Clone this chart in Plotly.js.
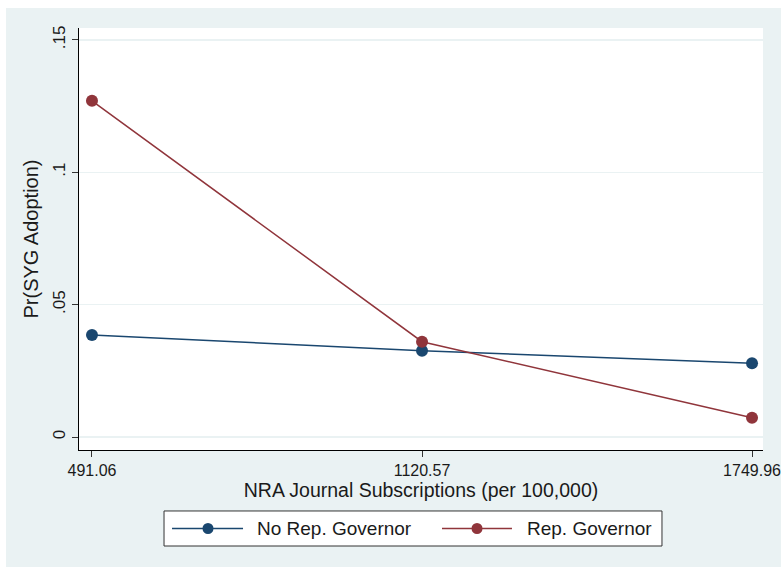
<!DOCTYPE html>
<html>
<head>
<meta charset="utf-8">
<script src="https://cdn.plot.ly/plotly-3.0.1.min.js"></script>
<style>
  html, body { margin: 0; padding: 0; background: #ffffff; overflow: hidden; }
  #chart { position: absolute; left: 6px; top: 8px; width: 775px; height: 559px; }
</style>
</head>
<body>
<div id="chart"></div>
<script>
// NRA journal subscriptions (per 100,000) at which predictions are evaluated
const subscriptions = [491.06, 1120.57, 1749.96];
// Predicted probability of SYG adoption
const noRepGovernor = [0.0385, 0.0326, 0.0279];
const repGovernor = [0.1270, 0.0360, 0.0073];
const seriesNames = ['No Rep. Governor', 'Rep. Governor'];
const yTickVals = [0, 0.05, 0.1, 0.15];
const yTickText = ['0', '.05', '.1', '.15'];
const xTickText = ['491.06', '1120.57', '1749.96'];

const navy = '#1a476f';
const maroon = '#90353b';
const bg = '#eaf2f3';
const colors = [navy, maroon];

const traces = [noRepGovernor, repGovernor].map((vals, i) => ({
  x: subscriptions, y: vals, name: seriesNames[i],
  type: 'scatter', mode: 'lines+markers',
  line: { color: colors[i], width: 1.5 },
  marker: { color: colors[i], size: 12 }
}));

// Legend box below the plot, laid out in paper coordinates
const legendBox = { x0: 0.1243, x1: 0.8523, y0: -0.2275, y1: -0.1445 };
const legendMid = (legendBox.y0 + legendBox.y1) / 2;
const legendEntries = [
  { lineX: [0.1360, 0.2398], dotX: 0.1886, textX: 0.2573 },
  { lineX: [0.5307, 0.6330], dotX: 0.5819, textX: 0.6520 }
];

const shapes = [{
  type: 'rect', xref: 'paper', yref: 'paper', layer: 'above',
  x0: legendBox.x0, x1: legendBox.x1, y0: legendBox.y0, y1: legendBox.y1,
  fillcolor: '#ffffff', line: { color: '#333333', width: 1 }
}];
const annotations = [];
legendEntries.forEach((e, i) => {
  shapes.push({
    type: 'line', xref: 'paper', yref: 'paper', layer: 'above',
    x0: e.lineX[0], x1: e.lineX[1], y0: legendMid, y1: legendMid,
    line: { color: colors[i], width: 1.5 }
  });
  shapes.push({
    type: 'circle', xref: 'paper', yref: 'paper', layer: 'above',
    xsizemode: 'pixel', ysizemode: 'pixel',
    xanchor: e.dotX, yanchor: legendMid,
    x0: -5.5, x1: 5.5, y0: -5.5, y1: 5.5,
    fillcolor: colors[i], line: { color: colors[i], width: 0 }
  });
  annotations.push({
    xref: 'paper', yref: 'paper', x: e.textX, y: legendMid,
    xanchor: 'left', yanchor: 'middle', showarrow: false,
    text: seriesNames[i], font: { size: 19, color: '#1a1a1a' }
  });
});

const layout = {
  width: 775, height: 559,
  margin: { l: 73, r: 18, t: 20, b: 117 },
  paper_bgcolor: bg,
  plot_bgcolor: '#ffffff',
  font: { family: 'Liberation Sans, Arial, sans-serif', color: '#1a1a1a', size: 17 },
  showlegend: false,
  xaxis: {
    range: [466.3, 1770.9],
    tickvals: subscriptions, ticktext: xTickText,
    ticks: 'outside', ticklen: 6, tickcolor: '#333333', tickwidth: 1,
    ticklabeloverflow: 'allow',
    showgrid: false, zeroline: false,
    showline: true, linecolor: '#000000', linewidth: 1,
    tickfont: { size: 16 },
    title: { text: 'NRA Journal Subscriptions (per 100,000)', font: { size: 19.5 }, standoff: 3 }
  },
  yaxis: {
    range: [-0.0049, 0.1545],
    tickvals: yTickVals, ticktext: yTickText, tickangle: -90,
    ticks: 'outside', ticklen: 6, tickcolor: '#333333', tickwidth: 1,
    showgrid: true, gridcolor: bg, gridwidth: 1.5, zeroline: false,
    showline: true, linecolor: '#000000', linewidth: 1,
    tickfont: { size: 17 },
    title: { text: 'Pr(SYG Adoption)', font: { size: 20 }, standoff: 6 }
  },
  shapes: shapes,
  annotations: annotations
};

Plotly.newPlot('chart', traces, layout, { displayModeBar: false, staticPlot: true });
</script>
</body>
</html>
